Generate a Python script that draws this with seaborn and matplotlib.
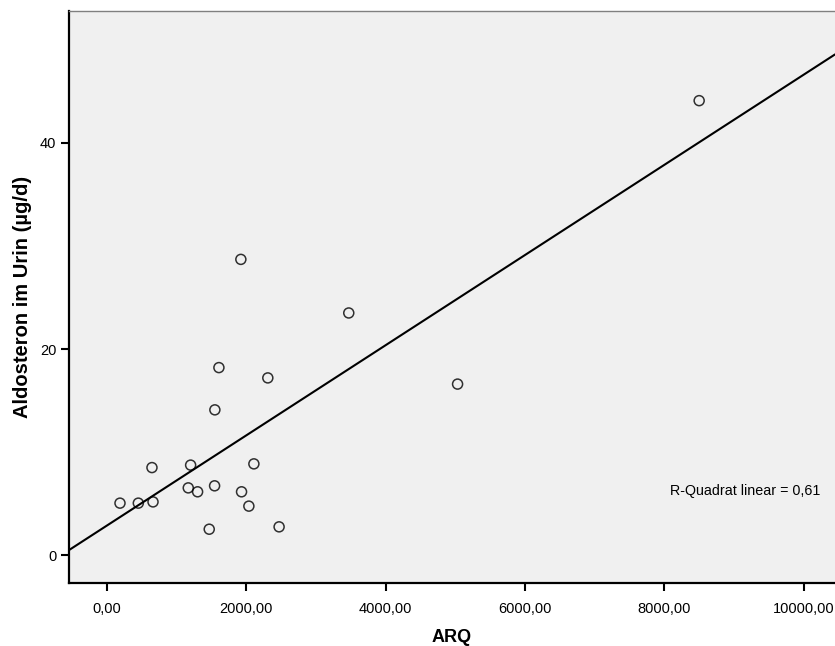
import numpy as np
import pandas as pd
import matplotlib
matplotlib.use("Agg")
import matplotlib.pyplot as plt
import seaborn as sns
from matplotlib.ticker import FuncFormatter

# values
arq = [8500, 1921, 3470, 1606, 2308, 5032, 1548, 645, 1200, 2108,
       1166, 1300, 1544, 1931, 2036, 186, 449, 660, 1467, 2470]
aldosteron = [44.1, 28.7, 23.5, 18.2, 17.2, 16.6, 14.1, 8.5, 8.74, 8.86,
              6.53, 6.15, 6.73, 6.15, 4.76, 5.05, 5.05, 5.17, 2.52, 2.75]
x_ticks = [0, 2000, 4000, 6000, 8000, 10000]
y_ticks = [0, 20, 40]
r2_text = "R-Quadrat linear = 0,61"

df = pd.DataFrame({"ARQ": arq, "Aldosteron": aldosteron})

sns.set_style("white")
plt.rcParams['font.family'] = ['Liberation Sans', 'DejaVu Sans']
plt.rcParams['text.color'] = 'black'
plt.rcParams['axes.labelcolor'] = 'black'
plt.rcParams['xtick.color'] = 'black'
plt.rcParams['ytick.color'] = 'black'

fig = plt.figure(figsize=(8.35, 6.46), dpi=100)
ax = fig.add_axes([0.0823, 0.0975, 0.9177, 0.8855])
ax.set_facecolor("#f0f0f0")
ax.set_xlim(-550, 10450)
ax.set_ylim(-2.7, 52.8)

sns.regplot(data=df, x="ARQ", y="Aldosteron", ax=ax, ci=None, truncate=False,
            scatter_kws=dict(s=52, facecolors="none", edgecolors="black", linewidths=1.1),
            line_kws=dict(color="black", lw=1.5), marker="o")

ax.set_xticks(x_ticks)
ax.set_yticks(y_ticks)
ax.xaxis.set_major_formatter(FuncFormatter(lambda v, p: f"{v:.2f}".replace(".", ",")))
ax.tick_params(axis="both", direction="out", length=6, width=1.5,
               labelsize=10.5, bottom=True, left=True, pad=3)
ax.tick_params(axis="x", pad=8)

ax.set_xlabel("ARQ", fontsize=13, fontweight="bold", labelpad=9)
ax.set_ylabel("Aldosteron im Urin (µg/d)", fontsize=14.5, fontweight="bold", labelpad=6)

for s in ["left", "bottom"]:
    ax.spines[s].set_color("black")
    ax.spines[s].set_linewidth(1.6)
ax.spines["top"].set_color("#808080")
ax.spines["top"].set_linewidth(1.0)
ax.spines["right"].set_visible(False)

ax.text(0.802, 0.24, r2_text, transform=fig.transFigure, fontsize=10.3, va="center")

fig.savefig("out.png", dpi=100)
